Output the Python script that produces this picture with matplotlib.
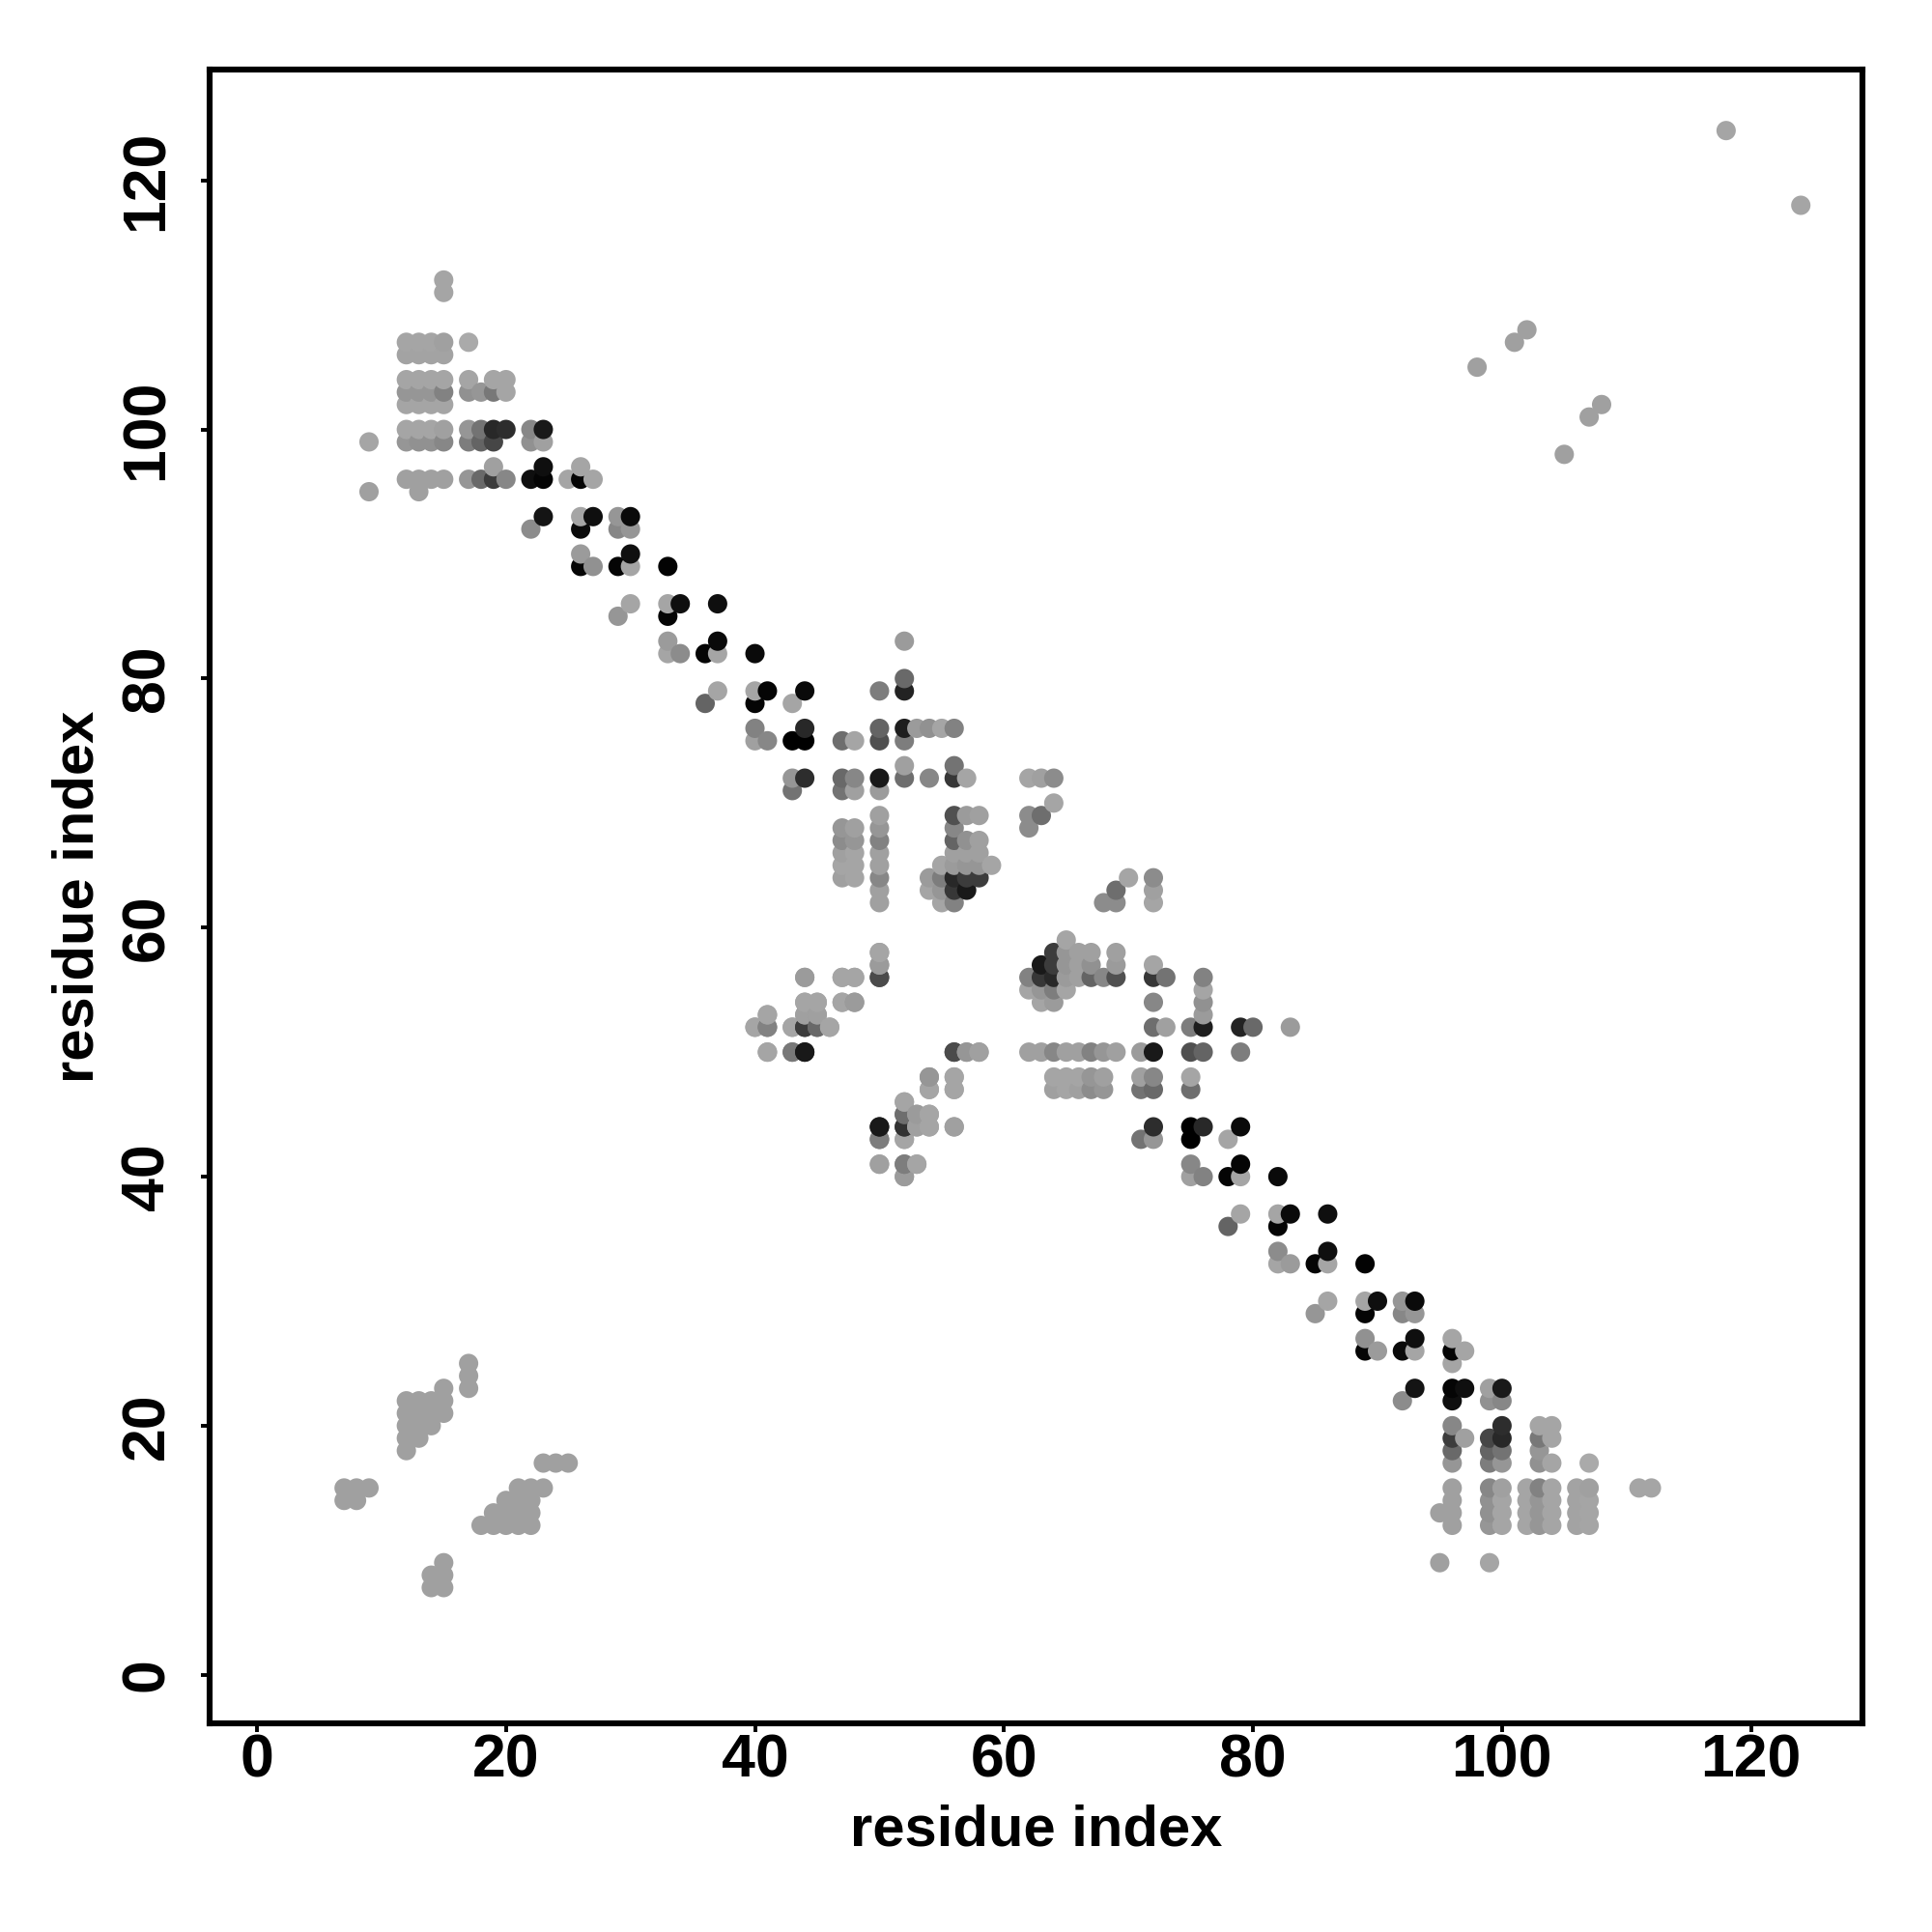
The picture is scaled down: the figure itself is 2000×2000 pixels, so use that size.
import numpy as np
import matplotlib
matplotlib.use('Agg')
import matplotlib.pyplot as plt

plt.rcParams['font.family'] = ['Liberation Sans', 'DejaVu Sans']

# contacts above the diagonal, by row. The map is symmetric, mirrored below
rows = [124, 112, 111, 108, 107, 106, 105, 104, 103, 102, 100, 99, 97, 96, 95, 93, 92, 90, 89,
        86, 85, 83, 82, 80, 79, 78, 76, 75, 73, 72, 71, 70, 69, 68, 67, 66, 65, 64, 63, 62,
        58, 57, 56, 54, 53, 52, 50, 48, 47, 46, 45, 44, 43, 41, 40,
        25, 24, 23, 22, 21, 20, 19, 18, 15, 14]

cols = [[118], [15], [15], [102],
        [12, 13, 14, 15, 17, 101],
        [12, 13, 14, 15],
        [98],
        [12, 13, 14, 15, 17, 19, 20],
        [12, 13, 14, 15, 17, 18, 19, 20],
        [12, 13, 14, 15],
        [12, 13, 14, 15, 17, 18, 19, 20, 22, 23],
        [9, 12, 13, 14, 15, 17, 18, 19, 22, 23],
        [19, 23, 26],
        [12, 13, 14, 15, 17, 18, 19, 20, 22, 23, 25, 26, 27],
        [9, 13],
        [23, 26, 27, 29, 30],
        [22, 26, 29, 30],
        [26, 30],
        [26, 27, 29, 30, 33],
        [30, 33, 34, 37],
        [29, 33],
        [33, 37, 52],
        [33, 34, 36, 37, 40],
        [52],
        [37, 40, 41, 44, 50, 52],
        [36, 40, 43],
        [40, 44, 50, 52, 53, 54, 55, 56],
        [40, 41, 43, 44, 47, 48, 50, 52],
        [52, 56],
        [43, 44, 47, 48, 50, 52, 54, 56, 57, 62, 63, 64],
        [43, 47, 48, 50],
        [64],
        [50, 56, 57, 58, 62, 63],
        [47, 48, 50, 56, 62],
        [47, 48, 50, 56, 57, 58],
        [47, 48, 50, 56, 57, 58],
        [47, 48, 50, 55, 56, 57, 58, 59],
        [47, 48, 50, 54, 55, 56, 57, 58],
        [50, 54, 55, 56, 57],
        [50, 55, 56],
        [50], [50],
        [44, 47, 48, 50],
        [44, 45, 47, 48],
        [41, 44, 45],
        [40, 41, 43, 44, 45, 46],
        [41, 43, 44, 56, 57, 58],
        [54, 56],
        [54, 56],
        [52],
        [52, 53, 54],
        [50, 52, 53, 54, 56],
        [50, 52],
        [50, 52, 53],
        [52],
        [17], [17],
        [15, 17],
        [12, 13, 14, 15],
        [12, 13, 14, 15],
        [12, 13, 14],
        [12, 13],
        [12],
        [7, 8, 9],
        [7, 8]]

# grey level of each contact, 0 black to 255 white
greys = [[165], [165], [165], [160],
         [165, 165, 165, 160, 170, 160],
         [163, 163, 163, 163],
         [160],
         [165, 165, 165, 165, 165, 165, 165],
         [150, 150, 150, 130, 145, 150, 120, 165],
         [165, 165, 165, 165],
         [165, 165, 165, 160, 150, 115, 40, 45, 135, 25],
         [165, 150, 145, 145, 135, 125, 100, 70, 145, 160],
         [160, 15, 165],
         [160, 160, 160, 160, 150, 105, 60, 135, 15, 5, 165, 5, 165],
         [160, 160],
         [20, 165, 15, 150, 10],
         [140, 10, 135, 150],
         [155, 15],
         [5, 145, 5, 165, 3],
         [165, 165, 15, 15],
         [150, 5],
         [155, 10, 155],
         [165, 140, 5, 165, 10],
         [105],
         [165, 165, 5, 10, 125, 35],
         [100, 5, 165],
         [130, 40, 100, 30, 155, 145, 165, 130],
         [160, 135, 0, 0, 110, 165, 80, 125],
         [160, 115],
         [150, 45, 105, 135, 25, 110, 135, 55, 165, 165, 160, 140],
         [115, 115, 160, 155],
         [165],
         [160, 80, 155, 160, 140, 110],
         [150, 160, 150, 135, 140],
         [140, 150, 130, 100, 145, 160],
         [160, 165, 160, 160, 160, 160],
         [165, 165, 160, 165, 155, 150, 150, 165],
         [160, 165, 135, 155, 125, 40, 60, 60],
         [160, 165, 150, 55, 25],
         [160, 165, 130],
         [160], [150],
         [160, 165, 165, 75],
         [165, 165, 165, 150],
         [165, 160, 155],
         [155, 125, 165, 50, 110, 165],
         [160, 125, 25, 75, 155, 165],
         [155, 165],
         [165, 165],
         [165],
         [105, 160, 165],
         [25, 60, 160, 165, 155],
         [120, 165],
         [165, 130, 165],
         [165],
         [160], [160],
         [160, 160],
         [160, 160, 160, 160],
         [160, 160, 160, 160],
         [160, 160, 160],
         [160, 160],
         [160],
         [160, 160, 160],
         [160, 160]]

tick_values = [0, 20, 40, 60, 80, 100, 120]

upper_x = np.concatenate(cols)
upper_y = np.repeat(rows, [len(c) for c in cols])
upper_grey = np.concatenate(greys)

x = np.concatenate([upper_x, upper_y])
y = np.concatenate([upper_y, upper_x])
grey = np.concatenate([upper_grey, upper_grey])

# drawn column by column, later points sit on top
order = np.lexsort((y, x))

fig = plt.figure(figsize=(10, 10), dpi=200)
ax = fig.add_axes([216.5/2000, 1-1784/2000, (1928-216.5)/2000, (1784-72)/2000])
ax.scatter(x[order], y[order], c=grey[order], cmap='gray', vmin=0, vmax=255, s=52, linewidths=0)

ax.set_xlim(-3.84, 128.95)
ax.set_ylim(-3.9, 128.9)
ax.set_xticks(tick_values)
ax.set_yticks(tick_values)
ax.tick_params(width=1.4, length=3.4, labelsize=22.5)
ax.tick_params(axis='x', pad=0)
ax.tick_params(axis='y', pad=9)
for lab in ax.get_xticklabels():
    lab.set_fontweight('bold')
for lab in ax.get_yticklabels():
    lab.set_fontweight('bold')
    lab.set_rotation(90)
    lab.set_va('center')
ax.set_xlabel('residue index', fontsize=21.5, fontweight='bold', labelpad=5.4)
ax.set_ylabel('residue index', fontsize=21.5, fontweight='bold', labelpad=5.2)
for s in ax.spines.values():
    s.set_linewidth(2.2)

fig.savefig('out.png', dpi=200)
